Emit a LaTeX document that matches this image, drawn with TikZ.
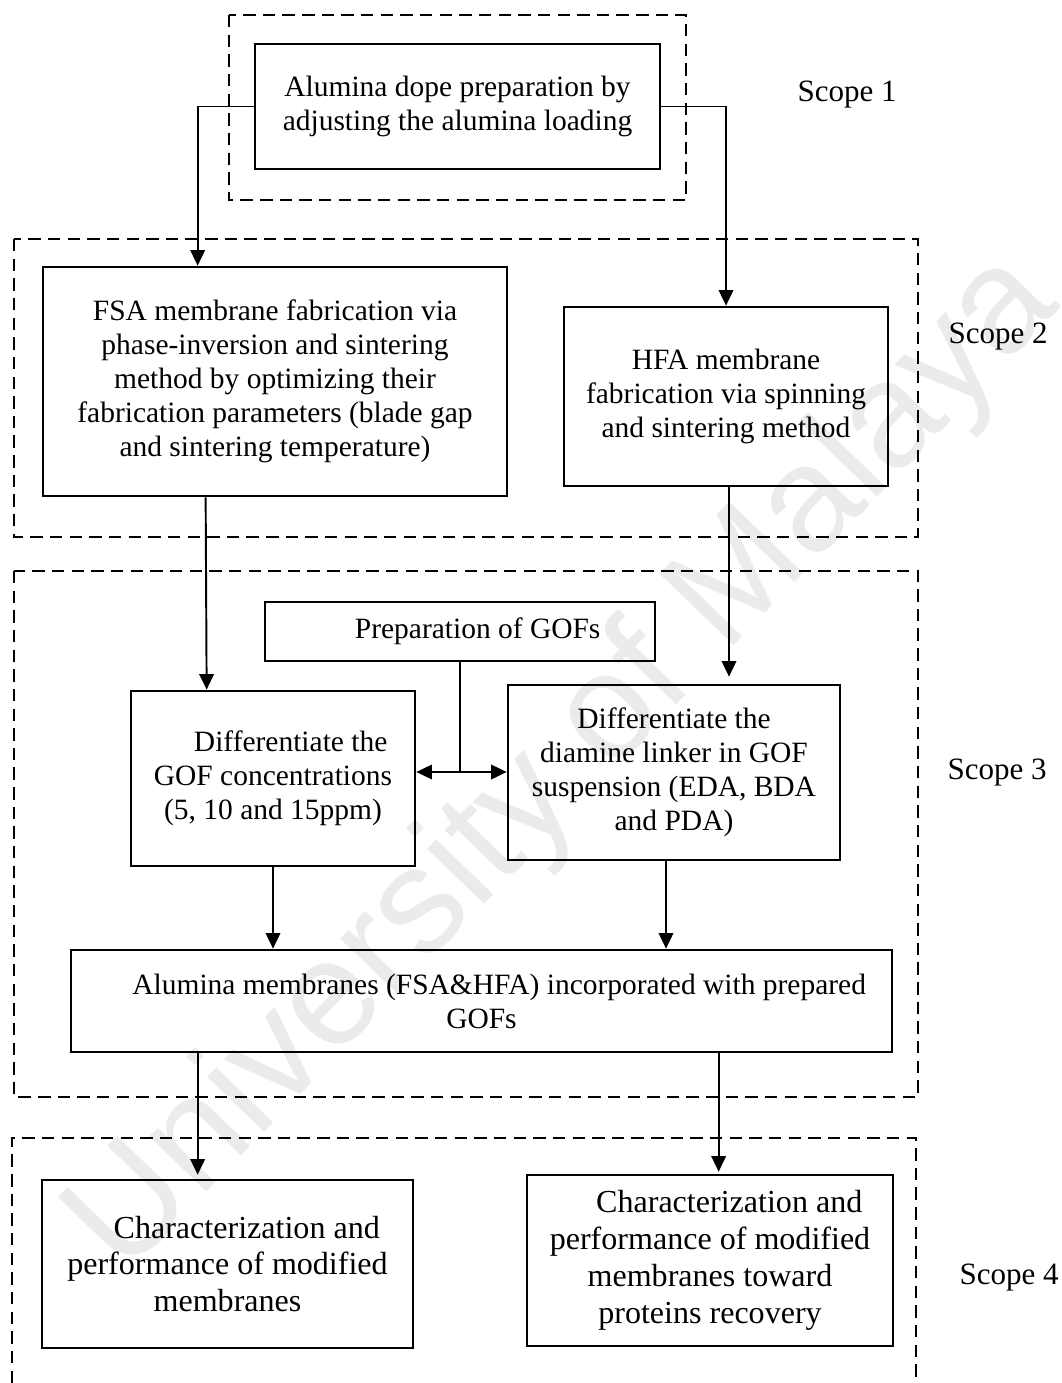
\documentclass[tikz,border=0pt]{standalone}
\usepackage{fontspec}
\setmainfont{Liberation Serif}
\setsansfont{Liberation Sans}
\usetikzlibrary{calc,arrows.meta}

\newlength\px
\setlength\px{0.0136cm}
\newcommand{\lead}{\hspace*{1.2em}}

\tikzset{
  stage/.style={draw, line width=1.05pt, align=center, inner sep=0pt,
    font=\fontsize{11.4}{13.2}\selectfont},
  bigstage/.style={stage, font=\fontsize{12.4}{14.3}\selectfont},
  scopebox/.style={draw, line width=0.6pt, dash pattern=on 4.8pt off 2.8pt},
  scopelabel/.style={anchor=west, inner sep=0pt, font=\fontsize{12}{13.5}\selectfont},
  flow/.style={line width=0.75pt, -{Triangle[length=6pt,width=5.6pt]}},
  twoway/.style={line width=0.75pt, {Triangle[length=6pt,width=5.6pt]}-{Triangle[length=6pt,width=5.6pt]}}
}

\begin{document}
\begin{tikzpicture}[x=0.0136cm, y=-0.0136cm]
  \useasboundingbox (0,0) rectangle (1062,1383);

  % watermark
  \node[rotate=46, text=black!8, font=\fontsize{58}{58}\sffamily] (wm) at (565,765) {University of Malaya};

  % scope frames
  \draw[scopebox] (229,15) rectangle (686,200);
  \draw[scopebox] (14,239) rectangle (918,537);
  \draw[scopebox] (14,571) rectangle (918,1097);
  \draw[scopebox] (12,1383) -- (12,1138) -- (916,1138) -- (916,1383);

  \node[scopelabel] (s1) at (797,95) {Scope 1};
  \node[scopelabel] (s2) at (948,337) {Scope 2};
  \node[scopelabel] (s3) at (947,773) {Scope 3};
  \node[scopelabel] (s4) at (959,1278) {Scope 4};

  % boxes
  \node[stage, minimum width=405\px, minimum height=125\px] (dope) at (457.5,106.5)
    {Alumina dope preparation by\\adjusting the alumina loading};
  \node[stage, minimum width=464\px, minimum height=229\px] (fsa) at (275,381.5)
    {FSA membrane fabrication via\\phase-inversion and sintering\\method by optimizing their\\fabrication parameters (blade gap\\and sintering temperature)};
  \node[stage, minimum width=324\px, minimum height=179\px] (hfa) at (726,396.5)
    {HFA membrane\\fabrication via spinning\\and sintering method};
  \node[stage, minimum width=390\px, minimum height=59\px] (gofs) at (460,631.5)
    {\lead Preparation of GOFs};
  \node[stage, minimum width=284\px, minimum height=175\px] (conc) at (273,778.5)
    {\lead Differentiate the\\GOF concentrations\\(5, 10 and 15ppm)};
  \node[stage, minimum width=332\px, minimum height=175\px] (linker) at (674,772.5)
    {Differentiate the\\diamine linker in GOF\\suspension (EDA, BDA\\and PDA)};
  \node[stage, minimum width=821\px, minimum height=102\px] (incorp) at (481.5,1001)
    {\lead Alumina membranes (FSA\&HFA) incorporated with prepared\\GOFs};
  \node[bigstage, minimum width=371\px, minimum height=168\px] (chara) at (227.5,1264)
    {\lead Characterization and\\performance of modified\\membranes};
  \node[bigstage, minimum width=366\px, minimum height=171\px] (charb) at (710,1260.5)
    {\lead Characterization and\\performance of modified\\membranes toward\\proteins recovery};

  % from the dope to both membranes
  \draw[flow] (dope.west) -| ($(fsa.north west)+(156,0)$);
  \draw[flow] (dope.east) -| (hfa.north);
  % into scope 3
  \draw[flow] ($(fsa.south west)+(164,0)$) -- ($(conc.north west)+(77,0)$);
  \draw[flow] ($(hfa.south)+(3,0)$) -- ($(hfa.south |- linker.north)+(3,-7)$);
  \coordinate (j) at (460,772);
  \draw[line width=0.75pt] (gofs.south) -- (j);
  \draw[twoway] (j -| conc.east) -- (j -| linker.west);
  \draw[flow] (conc.south) -- (conc.south |- incorp.north);
  \draw[flow] ($(linker.south)+(-8,0)$) -- ($(linker.south |- incorp.north)+(-8,0)$);
  % out to scope 4
  \draw[flow] ($(incorp.south west)+(128,0)$) -- ($(incorp.south west |- chara.north)+(128,-4)$);
  \draw[flow] ($(incorp.south west)+(649,0)$) -- ($(incorp.south west |- charb.north)+(649,-2)$);
\end{tikzpicture}
\end{document}
